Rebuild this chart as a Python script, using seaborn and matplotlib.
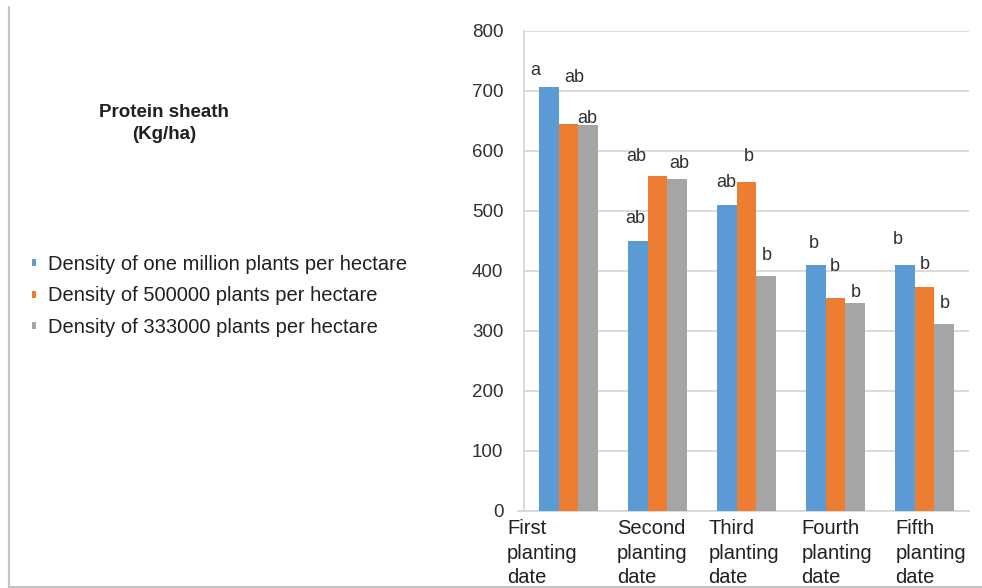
import numpy as np
import pandas as pd
import matplotlib
matplotlib.use("Agg")
import matplotlib.pyplot as plt
import matplotlib.transforms as mtransforms
from matplotlib.lines import Line2D
import seaborn as sns

# ---- data -------------------------------------------------------------
planting_dates = [
    "First\nplanting\ndate",
    "Second\nplanting\ndate",
    "Third\nplanting\ndate",
    "Fourth\nplanting\ndate",
    "Fifth\nplanting\ndate",
]
densities = [
    "Density of one million plants per hectare",
    "Density of 500000 plants per hectare",
    "Density of 333000 plants per hectare",
]
protein_1m = [706, 450, 510, 410, 410]
protein_500k = [644, 557, 547, 355, 373]
protein_333k = [642, 553, 391, 346, 311]

letters_1m = ["a", "ab", "ab", "b", "b"]
letters_500k = ["ab", "ab", "b", "b", "b"]
letters_333k = ["ab", "ab", "b", "b", "b"]

y_ticks = [0, 100, 200, 300, 400, 500, 600, 700, 800]

# ---- styling ----------------------------------------------------------
colors = ["#5b9bd5", "#ed7d31", "#a5a5a5"]
# offsets (pixels) of each significance letter from the top-centre of its bar
letter_offsets = [
    [(-13, 17), (-2, 22), (0, 22), (-2, 21), (-7, 25)],
    [(6, 47), (-21, 20), (2, 26), (-1, 31), (0, 22)],
    [(-1, 7), (2, 15), (0, 21), (0, 11), (0, 21)],
]

sns.set_style("white")
plt.rcParams["font.family"] = ["Liberation Sans", "DejaVu Sans"]

W, H = 982, 588
fig = plt.figure(figsize=(W / 100, H / 100), dpi=100)
ax = fig.add_axes([524 / W, 1 - 510.7 / H, (969 - 524) / W, (510.7 - 30.7) / H])

df = pd.DataFrame({
    "date": planting_dates * 3,
    "density": sum([[d] * len(planting_dates) for d in densities], []),
    "protein": protein_1m + protein_500k + protein_333k,
})

sns.barplot(
    data=df, x="date", y="protein", hue="density",
    order=planting_dates, hue_order=densities,
    palette=colors, saturation=1, width=0.674, linewidth=0,
    ax=ax, zorder=3,
)

ax.set_xlim(-0.5, len(planting_dates) - 0.5)
ax.set_ylim(0, 800)
ax.set_yticks(y_ticks)
ax.set_xlabel("")
ax.set_ylabel("")

grid_col = "#d4d4d4"
ax.grid(axis="y", color=grid_col, linewidth=1.2, zorder=0)
ax.set_axisbelow(True)
for s in ["top", "right"]:
    ax.spines[s].set_visible(False)
ax.spines["left"].set_color(grid_col)
ax.spines["left"].set_linewidth(1.2)
ax.spines["bottom"].set_color(grid_col)
ax.spines["bottom"].set_linewidth(1.2)

ax.tick_params(axis="y", length=4.3, width=1.2, color=grid_col, pad=10.5,
               labelsize=13.5, labelcolor="#303030")
ax.tick_params(axis="x", which="major", length=0, pad=6,
               labelsize=14.5, labelcolor="#202020")
ax.set_xticks(np.arange(-0.5, len(planting_dates)), minor=True)
ax.tick_params(axis="x", which="minor", length=4.3, width=1.2, color=grid_col)
ax.spines["bottom"].set_bounds(-0.5 - 6 / 89, len(planting_dates) - 0.5)

# horizontal nudges (pixels) of the category labels
label_shift = [-26, -5, -3, 1, 6]
for lab, dx in zip(ax.get_xticklabels(), label_shift):
    lab.set_linespacing(1.38)
    lab.set_multialignment("left")
    lab.set_transform(lab.get_transform()
                      + mtransforms.ScaledTranslation(dx / 100, 0, fig.dpi_scale_trans))

# significance letters above the bars
letter_sets = [letters_1m, letters_500k, letters_333k]
for container, letters, offs in zip(ax.containers, letter_sets, letter_offsets):
    for bar, letter, (dx, dy) in zip(container, letters, offs):
        cx = bar.get_x() + bar.get_width() / 2
        ax.annotate(letter, xy=(cx, bar.get_height()), xytext=(dx, dy),
                    textcoords="offset pixels", ha="center", va="center",
                    fontsize=13, color="#303030", zorder=5)

# legend on the left side of the figure
sns.move_legend(
    ax, "upper left", bbox_to_anchor=(32 / W, 1 - 255 / H),
    bbox_transform=fig.transFigure, frameon=False, title=None,
    fontsize=14.5, handlelength=0.22, handleheight=0.14,
    handletextpad=0.58, labelspacing=0.62, borderpad=0, borderaxespad=0,
)
for t in ax.get_legend().get_texts():
    t.set_color("#202020")

fig.text(163.7 / W, 1 - 123.5 / H, "Protein sheath\n(Kg/ha)", ha="center",
         va="center", fontsize=13.5, fontweight="bold", linespacing=1.4,
         color="#202020")

# chart frame edges
frame_col = "#c4c4c4"
fig.add_artist(Line2D([9 / W, 9 / W], [1 - 7 / H, 0], transform=fig.transFigure,
                      color=frame_col, linewidth=1.6))
fig.add_artist(Line2D([9 / W, 1], [1 - 587.3 / H, 1 - 587.3 / H],
                      transform=fig.transFigure, color=frame_col, linewidth=1.6))

fig.savefig("out.png", dpi=100, facecolor="white")
